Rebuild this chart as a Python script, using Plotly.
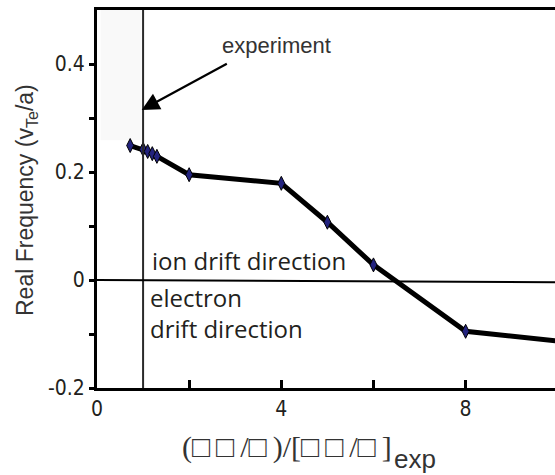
import plotly.graph_objects as go

# Real frequency of the mode versus normalised drive parameter
x_ratio = [0.72, 1.0, 1.1, 1.2, 1.3, 2.0, 4.0, 5.0, 6.0, 8.0, 10.0]
real_freq = [0.249, 0.242, 0.238, 0.234, 0.229, 0.195, 0.179, 0.107, 0.028, -0.095, -0.113]

x_ticks = [0, 2, 4, 6, 8]
x_ticktext = ["0", "", "4", "", "8"]
y_ticks = [-0.2, -0.1, 0, 0.1, 0.2, 0.3, 0.4]
y_ticktext = ["-0.2", "", "0", "", "0.2", "", "0.4"]

x_exp = 1.0  # experimental operating point

ink = "#231f20"
tick_font = dict(family="Liberation Sans Narrow, DejaVu Sans Condensed, Arial", size=21, color=ink)
label_font = dict(family="Open Sans, Noto Sans, Arial", size=24, color=ink)

W, H = 555, 475
ML, MR, MT, MB = 97, 0, 10, 87


def px_to_paper(px, py):
    return (px - ML) / (W - ML - MR), 1 - (py - MT) / (H - MT - MB)


fig = go.Figure()

# light band marking the experimental region
fig.add_shape(type="rect", x0=0.08, x1=x_exp - 0.03, y0=0.259, y1=0.5,
              fillcolor="#f9f9f9", line_width=0, layer="below")
# experimental value and zero-frequency reference lines
fig.add_shape(type="line", x0=x_exp, x1=x_exp, y0=-0.2, y1=0.5,
              line=dict(color="#2a2a2a", width=2))
fig.add_shape(type="line", x0=0, x1=9.94, y0=0, y1=-0.004,
              line=dict(color="black", width=2))

fig.add_trace(go.Scatter(
    x=x_ratio, y=real_freq, mode="lines+markers",
    line=dict(color="black", width=5),
    marker=dict(symbol="diamond-tall", size=10, color="#23237e",
                line=dict(color="black", width=1)),
    showlegend=False,
))

fig.add_annotation(x=x_exp - 0.03, y=0.315, ax=2.85, ay=0.402, axref="x", ayref="y",
                   xref="x", yref="y", text="", showarrow=True,
                   arrowhead=2, arrowsize=1.6, arrowwidth=2.2, arrowcolor="black")
fig.add_annotation(x=2.68, y=0.435, xref="x", yref="y", text="experiment",
                   showarrow=False, xanchor="left", yanchor="middle",
                   font=dict(family="Liberation Sans, Arial", size=22, color="#333333"))
fig.add_annotation(x=1.16, y=0.037, xref="x", yref="y", text="ion drift direction",
                   showarrow=False, xanchor="left", yanchor="middle", font=label_font)
fig.add_annotation(x=1.11, y=-0.062, xref="x", yref="y",
                   text="electron<br>drift direction", align="left",
                   showarrow=False, xanchor="left", yanchor="middle", font=label_font)

# y-axis title
ax_, ay_ = px_to_paper(26, 200)
fig.add_annotation(x=ax_, y=ay_, xref="paper", yref="paper",
                   text="Real Frequency (v<sub>Te</sub>/a)",
                   textangle=-90, showarrow=False, xanchor="center", yanchor="middle",
                   font=dict(family="Liberation Sans, Arial", size=23, color="#333333"))

# x-axis title: ratio part and its "exp" subscript
tx, ty = px_to_paper(180, 447)
fig.add_annotation(x=tx, y=ty, xref="paper", yref="paper",
                   text="(□\u2009□\u2009/□\u2009)/[□\u2009□\u2009/□\u2009]",
                   showarrow=False, xanchor="left", yanchor="middle",
                   font=dict(family="Liberation Serif, DejaVu Sans", size=30, color="#333333"))
sx, sy = px_to_paper(392, 459)
fig.add_annotation(x=sx, y=sy, xref="paper", yref="paper", text="exp",
                   showarrow=False, xanchor="left", yanchor="middle",
                   font=dict(family="Liberation Sans, Arial", size=26, color="#333333"))

fig.update_layout(
    width=W, height=H,
    margin=dict(l=ML, r=MR, t=MT, b=MB),
    paper_bgcolor="white", plot_bgcolor="white",
    xaxis=dict(range=[0, 9.94], tickvals=x_ticks, ticktext=x_ticktext,
               ticks="inside", ticklen=8, tickwidth=2.5, tickcolor="black",
               showline=True, linewidth=3, linecolor="black", mirror=True,
               showgrid=False, zeroline=False, tickfont=tick_font),
    yaxis=dict(range=[-0.2, 0.5], tickvals=y_ticks, ticktext=y_ticktext,
               ticks="outside", ticklen=5, tickwidth=2.5, tickcolor="black",
               showline=True, linewidth=3, linecolor="black",
               showgrid=False, zeroline=False, tickfont=tick_font),
)

fig.write_html("out.html")
